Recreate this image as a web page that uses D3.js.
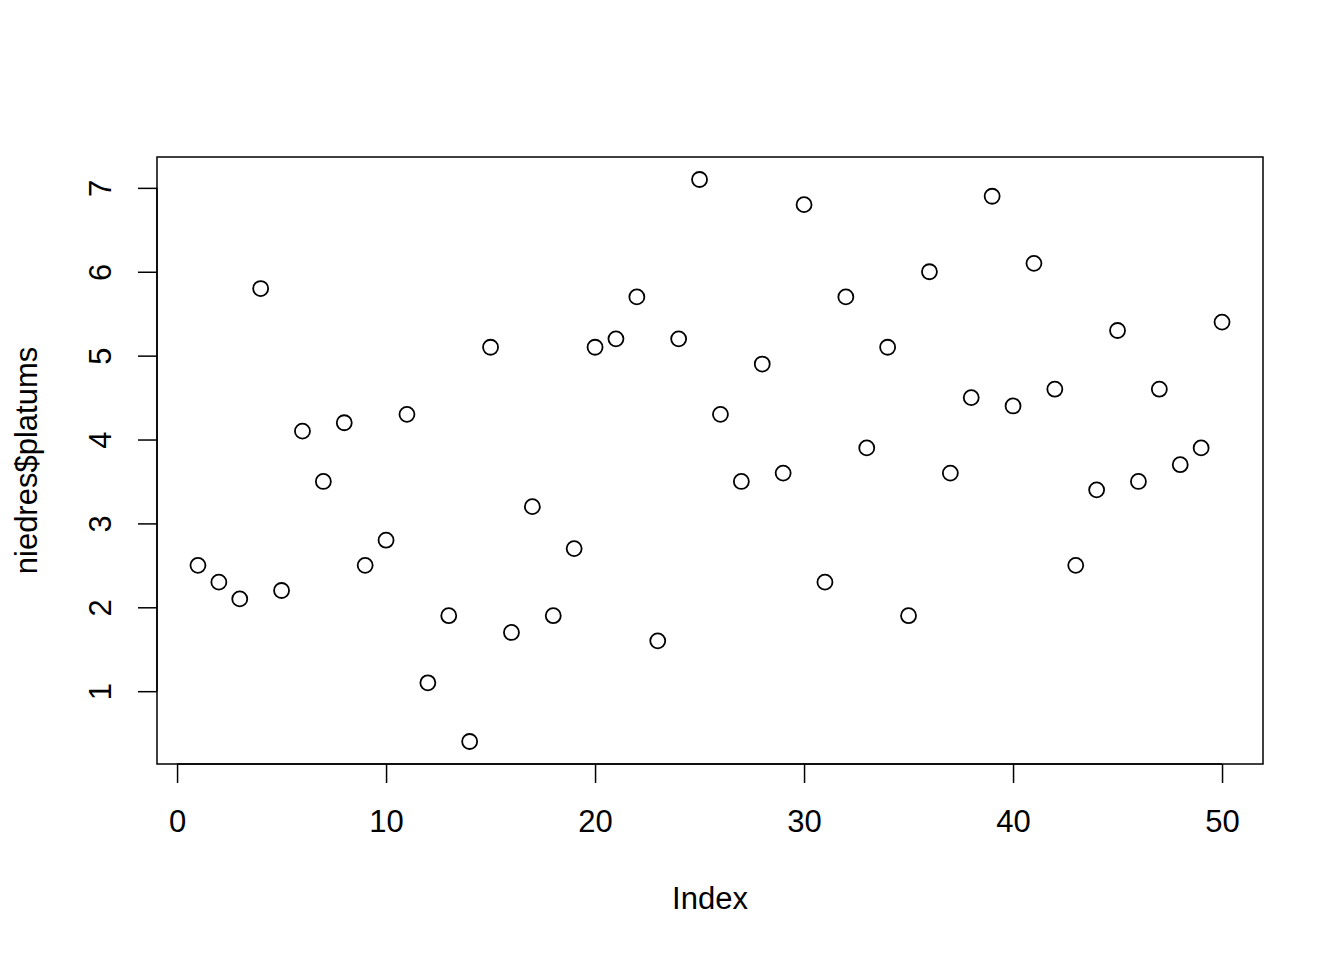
<!DOCTYPE html>
<html lang="en">
<head>
    <meta charset="UTF-8">
    <title>niedres$platums</title>
    <script src="https://d3js.org/d3.v7.min.js"></script>
    <style>
        body { margin: 0; background: #fff; }
        text { font-family: "Liberation Sans", Arial, sans-serif; fill: #000; }
    </style>
</head>
<body>
<svg width="1344" height="960"></svg>
<script type="text/javascript">
    // plot(niedres$platums)
    let platums = [2.5, 2.3, 2.1, 5.8, 2.2, 4.1, 3.5, 4.2, 2.5, 2.8,
        4.3, 1.1, 1.9, 0.4, 5.1, 1.7, 3.2, 1.9, 2.7, 5.1,
        5.2, 5.7, 1.6, 5.2, 7.1, 4.3, 3.5, 4.9, 3.6, 6.8,
        2.3, 5.7, 3.9, 5.1, 1.9, 6.0, 3.6, 4.5, 6.9, 4.4,
        6.1, 4.6, 2.5, 3.4, 5.3, 3.5, 4.6, 3.7, 3.9, 5.4];
    let xTicks = [0, 10, 20, 30, 40, 50];
    let yTicks = [1, 2, 3, 4, 5, 6, 7];

    let svg = d3.select("svg");
    let box = {left: 157, right: 1263, top: 157, bottom: 764};
    let fontSize = "31px";

    // R style 4% range extension
    let n = platums.length;
    let xPad = (n - 1) * 0.04;
    let yMin = d3.min(platums), yMax = d3.max(platums);
    let yPad = (yMax - yMin) * 0.04;

    let x = d3.scaleLinear().domain([1 - xPad, n + xPad]).range([box.left, box.right]);
    let y = d3.scaleLinear().domain([yMin - yPad, yMax + yPad]).range([box.bottom, box.top]);

    let xAxis = svg.append("g")
        .attr("transform", `translate(0,${box.bottom})`)
        .call(d3.axisBottom(x).tickValues(xTicks).tickSize(19).tickPadding(27).tickFormat(d3.format("d")));
    xAxis.select(".domain").attr("d", `M${x(0)},0H${x(50)}`).attr("stroke", "#000").attr("stroke-width", 1.5);
    xAxis.selectAll(".tick line").attr("stroke-width", 1.5);
    xAxis.selectAll("text").style("font-size", fontSize).attr("fill", "#000")
        .attr("font-family", "Liberation Sans, Arial, sans-serif");

    let yAxis = svg.append("g")
        .attr("transform", `translate(${box.left},0)`)
        .call(d3.axisLeft(y).tickValues(yTicks).tickSize(19).tickFormat(d3.format("d")));
    yAxis.select(".domain").attr("d", `M0,${y(1)}V${y(7)}`).attr("stroke", "#000").attr("stroke-width", 1.5);
    yAxis.selectAll(".tick line").attr("stroke-width", 1.5);
    yAxis.selectAll("text")
        .style("font-size", fontSize)
        .attr("fill", "#000")
        .attr("font-family", "Liberation Sans, Arial, sans-serif")
        .attr("x", null).attr("dy", null)
        .attr("text-anchor", "middle")
        .attr("transform", "translate(-46,0) rotate(-90)");

    svg.append("rect")
        .attr("x", box.left).attr("y", box.top)
        .attr("width", box.right - box.left).attr("height", box.bottom - box.top)
        .attr("fill", "none").attr("stroke", "#000").attr("stroke-width", 1.5);

    svg.append("g").selectAll("circle")
        .data(platums)
        .join("circle")
        .attr("cx", (d, i) => x(i + 1))
        .attr("cy", d => y(d))
        .attr("r", 7.5)
        .attr("fill", "none")
        .attr("stroke", "#000")
        .attr("stroke-width", 1.8);

    svg.append("text")
        .attr("x", (box.left + box.right) / 2).attr("y", 909)
        .attr("text-anchor", "middle")
        .style("font-size", fontSize)
        .text("Index");

    svg.append("text")
        .attr("transform", `translate(37,${(box.top + box.bottom) / 2}) rotate(-90)`)
        .attr("text-anchor", "middle")
        .style("font-size", fontSize)
        .text("niedres$platums");
</script>
</body>
</html>
